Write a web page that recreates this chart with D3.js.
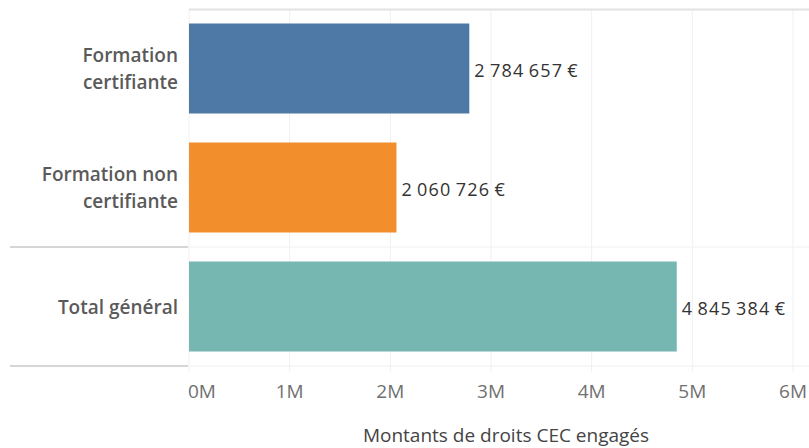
<meta charset="utf-8">
<style>
body { margin: 0; background: #fff; }
text { font-family: "Open Sans", Lato, sans-serif; }
</style>
<body>
<div id="chart"></div>
<script src="https://cdn.jsdelivr.net/npm/d3@7"></script>
<script>
// categories and values (€)
var categories = ["Formation certifiante", "Formation non certifiante", "Total général"];
var labelLines = [["Formation", "certifiante"], ["Formation non", "certifiante"], ["Total général"]];
var values = [2784657, 2060726, 4845384];
var colors = ["#4e79a7", "#f28e2b", "#76b7b2"];
var ticks = [0, 1e6, 2e6, 3e6, 4e6, 5e6, 6e6];

var W = 809, H = 448;
var plotLeft = 189, plotRight = 793, plotTop = 9, plotBottom = 366;

var svg = d3.select("#chart").append("svg")
    .attr("width", W).attr("height", H);

var x = d3.scaleLinear().domain([0, 6e6]).range([plotLeft, plotRight]);
var y = d3.scaleBand().domain(categories).range([plotTop, plotBottom])
    .paddingInner(0.2437).paddingOuter(0.1218);

var fr = d3.formatLocale({decimal: ",", thousands: "\u2009", grouping: [3], currency: ["", " €"]});
var fmt = fr.format(",.0f");

// grid
svg.append("g").selectAll("line")
    .data(ticks)
    .enter().append("line")
    .attr("x1", d => x(d)).attr("x2", d => x(d))
    .attr("y1", plotTop).attr("y2", plotBottom + 6)
    .attr("stroke", "#f0f0f0").attr("stroke-width", 1);

// top border
svg.append("line").attr("x1", plotLeft).attr("x2", W).attr("y1", plotTop + 0.5).attr("y2", plotTop + 0.5)
    .attr("stroke", "#e2e2e2").attr("stroke-width", 2);

// row separators (header part darker)
var seps = [y.step() * 2 + plotTop, plotBottom];
seps.forEach(function(s) {
    svg.append("line").attr("x1", 10).attr("x2", plotLeft - 1).attr("y1", s).attr("y2", s)
        .attr("stroke", "#d6d6d6").attr("stroke-width", 2);
    svg.append("line").attr("x1", plotLeft).attr("x2", W).attr("y1", s).attr("y2", s)
        .attr("stroke", "#f0f0f0").attr("stroke-width", 1);
});

// bars
svg.append("g").selectAll("rect")
    .data(values)
    .enter().append("rect")
    .attr("x", x(0))
    .attr("y", (d, i) => y(categories[i]))
    .attr("width", d => x(d) - x(0))
    .attr("height", y.bandwidth())
    .attr("fill", (d, i) => colors[i]);

// value labels
svg.append("g").selectAll("text")
    .data(values)
    .enter().append("text")
    .attr("x", d => x(d) + 5)
    .attr("y", (d, i) => y(categories[i]) + y.bandwidth() / 2 + 8.5)
    .style("font-size", "18px")
    .style("letter-spacing", "1.2px")
    .style("fill", "#333")
    .text(d => fmt(d) + "\u2009€");

// category labels
var cat = svg.append("g").selectAll("text")
    .data(labelLines)
    .enter().append("text")
    .attr("text-anchor", "end")
    .style("font-size", "19px")
    .style("font-weight", 600)
    .style("fill", "#5a5a5a");
cat.each(function(lines, i) {
    var cy = y(categories[i]) + y.bandwidth() / 2;
    var lh = 26.5;
    var y0 = cy - (lines.length - 1) * lh / 2 + 7;
    d3.select(this).selectAll("tspan")
        .data(lines)
        .enter().append("tspan")
        .attr("x", plotLeft - 11)
        .attr("y", (l, j) => y0 + j * lh)
        .text(l => l);
});

// tick labels
svg.append("g").selectAll("text")
    .data(ticks)
    .enter().append("text")
    .attr("x", (d, i) => i === 0 ? x(d) - 1 : x(d))
    .attr("y", 398)
    .attr("text-anchor", (d, i) => i === 0 ? "start" : "middle")
    .style("font-size", "19px")
    .style("fill", "#707070")
    .text(d => (d / 1e6) + "M");

// axis title
svg.append("text")
    .attr("x", 506).attr("y", 442)
    .attr("text-anchor", "middle")
    .style("font-size", "19px")
    .style("fill", "#444")
    .text("Montants de droits CEC engagés");
</script>
</body>
